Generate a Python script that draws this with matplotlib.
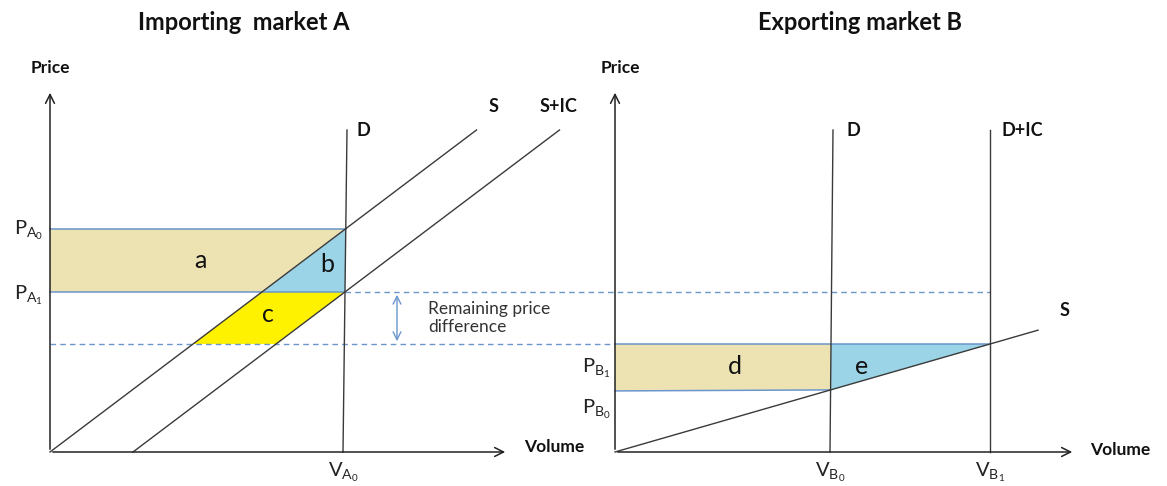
import numpy as np
import matplotlib
matplotlib.use('agg')
from matplotlib import pyplot as plt
from matplotlib.patches import Polygon

plt.rcParams['font.family'] = ['Lato', 'DejaVu Sans']
plt.rcParams['mathtext.fontset'] = 'custom'
plt.rcParams['mathtext.rm'] = 'Lato'

# ---- diagram values (volume / price units from each panel's origin) ----
origin_a = (50, 34)
origin_b = (615, 34)
axis_len = (458, 362)
axis_len_b = (460, 362)

supply_a_slope = 0.755
ic_shift_a = 83          # S+IC sits this far right of S
demand_a = (293, 297)    # D volume at bottom / at top
curve_top = 322          # price where the curves stop
pa1 = 160
p_remaining = 108        # lower dashed level = PB1

supply_b_slope = 0.288
supply_b_end = 423
demand_b = (215, 218)
demand_ic_b = 375
arrow_x_a = 347          # remaining-difference arrow, volume in panel A

LINE = '#3a3a3a'
BLUE = '#6a96cc'
BEIGE = '#ede2b2'
LBLUE = '#9bd4e6'
YELLOW = '#fff200'


def pa(v, p):
    return origin_a[0] + np.asarray(v), origin_a[1] + np.asarray(p)


def pb(v, p):
    return origin_b[0] + np.asarray(v), origin_b[1] + np.asarray(p)


def demand_v(d, p):
    return d[0] + (d[1] - d[0]) * p / curve_top


fig = plt.figure(figsize=(11.67, 4.86), dpi=100)
ax = fig.add_axes([0, 0, 1, 1])
ax.set_xlim(0, 1167)
ax.set_ylim(0, 486)
ax.axis('off')

arrow = dict(arrowstyle='->', lw=1.1, color='#222222', mutation_scale=16)

# ---------------- market A ----------------
# PA0 = where S meets D
va0 = demand_a[0] / (1 - (demand_a[1] - demand_a[0]) / curve_top * supply_a_slope)
pa0 = supply_a_slope * va0
v_s_pa1 = pa1 / supply_a_slope
v_d_pa1 = demand_v(demand_a, pa1)
v_s_low = p_remaining / supply_a_slope
v_sic_low = ic_shift_a + p_remaining / supply_a_slope

ax.add_patch(Polygon(np.column_stack(pa([0, v_s_pa1, va0, 0], [pa1, pa1, pa0, pa0])),
                     closed=True, fc=BEIGE, ec='none'))
ax.add_patch(Polygon(np.column_stack(pa([v_s_pa1, v_d_pa1, va0], [pa1, pa1, pa0])),
                     closed=True, fc=LBLUE, ec='none'))
ax.add_patch(Polygon(np.column_stack(pa([v_s_low, v_sic_low, v_d_pa1, v_s_pa1],
                                        [p_remaining, p_remaining, pa1, pa1])),
                     closed=True, fc=YELLOW, ec='none'))

# price lines
ax.plot(*pa([0, va0], [pa0, pa0]), color=BLUE, lw=1.1)
ax.plot(*pa([0, v_d_pa1], [pa1, pa1]), color=BLUE, lw=1.1)
x_end_dash = origin_b[0] + demand_ic_b
ax.plot([pa(v_d_pa1, 0)[0], x_end_dash], [origin_a[1] + pa1] * 2, color=BLUE, lw=1, ls=(0, (4, 3)))
ax.plot([origin_a[0], origin_b[0]], [origin_a[1] + p_remaining] * 2, color=BLUE, lw=1, ls=(0, (4, 3)))

# curves
s_v = np.array([0, curve_top / supply_a_slope])
ax.plot(*pa(s_v, supply_a_slope * s_v), color=LINE, lw=1)
ax.plot(*pa(s_v + ic_shift_a, supply_a_slope * s_v), color=LINE, lw=1)
ax.plot(*pa(list(demand_a), [0, curve_top]), color=LINE, lw=1)

# axes
ax.annotate('', xy=pa(0, axis_len[1]), xytext=pa(0, 0), arrowprops=arrow)
ax.annotate('', xy=pa(axis_len[0], 0), xytext=pa(0, 0), arrowprops=arrow)

# remaining price difference arrow
ax.annotate('', xy=pa(arrow_x_a, p_remaining), xytext=pa(arrow_x_a, pa1),
            arrowprops=dict(arrowstyle='<->', lw=1, color=BLUE, mutation_scale=14))
ax.text(428, origin_a[1] + (pa1 + p_remaining) / 2, 'Remaining price\ndifference',
        fontsize=12.5, color='#333333', va='center', ha='left', linespacing=1.1)

# ---------------- market B ----------------
pb1 = p_remaining
vb0 = demand_b[0] / (1 - (demand_b[1] - demand_b[0]) / curve_top * supply_b_slope)
pb0 = supply_b_slope * vb0
vb1 = demand_ic_b
ax.add_patch(Polygon(np.column_stack(pb([0, demand_v(demand_b, pb1), vb0, 0], [pb1, pb1, pb0, pb0])),
                     closed=True, fc=BEIGE, ec='none'))
ax.add_patch(Polygon(np.column_stack(pb([demand_v(demand_b, pb1), vb1, vb0], [pb1, pb1, pb0])),
                     closed=True, fc=LBLUE, ec='none'))
ax.plot(*pb([0, vb1], [pb1, pb1]), color=BLUE, lw=1.1)
ax.plot(*pb([0, vb0], [pb0 - 1, pb0]), color=BLUE, lw=1.1)

sb_v = np.array([0, supply_b_end])
ax.plot(*pb(sb_v, supply_b_slope * sb_v), color=LINE, lw=1)
ax.plot(*pb(list(demand_b), [0, curve_top]), color=LINE, lw=1)
ax.plot(*pb([demand_ic_b, demand_ic_b], [0, curve_top]), color=LINE, lw=1)

ax.annotate('', xy=pb(0, axis_len_b[1]), xytext=pb(0, 0), arrowprops=arrow)
ax.annotate('', xy=pb(axis_len_b[0], 0), xytext=pb(0, 0), arrowprops=arrow)

# ---------------- text ----------------
bold = dict(fontweight='bold', color='#111111')
ax.text(244, 463, 'Importing  market A', fontsize=17, ha='center', va='center', **bold)
ax.text(860, 463, 'Exporting market B', fontsize=17, ha='center', va='center', **bold)
ax.text(50, 418, 'Price', fontsize=12.5, ha='center', va='center', **bold)
ax.text(620, 418, 'Price', fontsize=12.5, ha='center', va='center', **bold)
ax.text(524, 39, 'Volume', fontsize=12.5, ha='left', va='center', **bold)
ax.text(1090, 36, 'Volume', fontsize=12.5, ha='left', va='center', **bold)
ax.text(363, 356, 'D', fontsize=13, ha='center', va='center', **bold)
ax.text(494, 379, 'S', fontsize=13, ha='center', va='center', **bold)
ax.text(558, 379, 'S+IC', fontsize=13, ha='center', va='center', **bold)
ax.text(853, 356, 'D', fontsize=13, ha='center', va='center', **bold)
ax.text(1022, 356, 'D+IC', fontsize=13, ha='center', va='center', **bold)
ax.text(1065, 175, 'S', fontsize=13, ha='center', va='center', **bold)

lab = dict(fontsize=14.5, color='#222222', va='center')
ax.text(43, origin_a[1] + pa0 - 2, r'P$\mathregular{_{A_0}}$', ha='right', **lab)
ax.text(43, origin_a[1] + pa1 - 3, r'P$\mathregular{_{A_1}}$', ha='right', **lab)
ax.text(611, origin_b[1] + pb1 - 24, r'P$\mathregular{_{B_1}}$', ha='right', **lab)
ax.text(611, origin_b[1] + pb0 - 20, r'P$\mathregular{_{B_0}}$', ha='right', **lab)
ax.text(origin_a[0] + demand_a[0], 14, r'V$\mathregular{_{A_0}}$', ha='center', **lab)
ax.text(origin_b[0] + demand_b[0], 14, r'V$\mathregular{_{B_0}}$', ha='center', **lab)
ax.text(origin_b[0] + demand_ic_b, 14, r'V$\mathregular{_{B_1}}$', ha='center', **lab)

area = dict(fontsize=18, color='#111111', ha='center', va='center')
ax.text(200, 226, 'a', **area)
ax.text(327, 221, 'b', **area)
ax.text(268, 171, 'c', **area)
ax.text(735, 120, 'd', **area)
ax.text(862, 120, 'e', **area)

fig.savefig('out.png', dpi=100)
